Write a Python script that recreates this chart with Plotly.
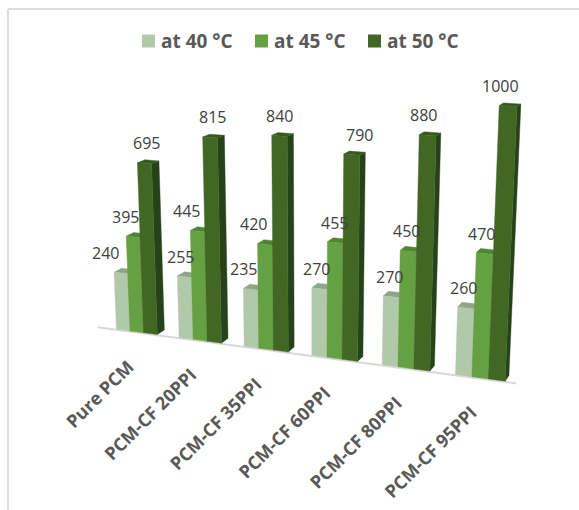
import math
import plotly.graph_objects as go

# Melting-time bars for each sample at three heating temperatures
categories = ["Pure PCM", "PCM-CF 20PPI", "PCM-CF 35PPI",
              "PCM-CF 60PPI", "PCM-CF 80PPI", "PCM-CF 95PPI"]
series_names = ["at 40 °C", "at 45 °C", "at 50 °C"]
values_40 = [240, 255, 235, 270, 270, 260]
values_45 = [395, 445, 420, 455, 450, 470]
values_50 = [695, 815, 840, 790, 880, 1000]

# Horizontal nudges that keep each value label clear of the neighbouring bar
nudge_40 = [-15, -4, -7, -3, -2, -2]
nudge_45 = [-8, -11, -12, -1, -2, -3]
nudge_50 = [2, 2, 0, 8, -4, -8]

# Face colours of a bar: front, top, right side
colors_40 = ("#B1C9A8", "#8FA488", "#8FA488")
colors_45 = ("#65A043", "#4F8430", "#4A7A30")
colors_50 = ("#426725", "#345A1C", "#25421A")

WIDTH, HEIGHT = 579, 510

# Pinhole camera: the bars are modelled as boxes and projected to the page
FOCAL = 1307.0
CENTER_U, CENTER_V = 310.0, 255.0
YAW = math.radians(21.25)
PITCH = math.radians(15.7)
ORIGIN = (-212.0, 72.0, 1307.0)

AXIS_X = (math.cos(YAW), math.sin(YAW) * math.sin(PITCH), -math.sin(YAW) * math.cos(PITCH))
AXIS_Y = (math.sin(YAW), -math.cos(YAW) * math.sin(PITCH), math.cos(YAW) * math.cos(PITCH))
AXIS_Z = (0.0, -math.cos(PITCH), -math.sin(PITCH))

CATEGORY_STEP = 69.5
GROUP_START = 20.4
BAR_WIDTH = 15.2
BAR_DEPTH = 15.0
FRONT_OFFSET = 1.0
VALUE_SCALE = 0.246
FLOOR_LENGTH = 424.0


def project(x, y, z):
    cam = [ORIGIN[i] + x * AXIS_X[i] + y * AXIS_Y[i] + z * AXIS_Z[i] for i in range(3)]
    return CENTER_U + FOCAL * cam[0] / cam[2], CENTER_V + FOCAL * cam[1] / cam[2]


def face(corners, color):
    pts = [project(*c) for c in corners] + [project(*corners[0])]
    return go.Scatter(
        x=[p[0] for p in pts], y=[p[1] for p in pts],
        mode="lines", fill="toself", fillcolor=color,
        line=dict(color=color, width=0.4),
        hoverinfo="skip", showlegend=False,
    )


def bar_traces(x0, value, colors):
    x1 = x0 + BAR_WIDTH
    y0, y1 = FRONT_OFFSET, FRONT_OFFSET + BAR_DEPTH
    z = value * VALUE_SCALE
    front, top, side = colors
    return [
        face([(x1, y0, 0), (x1, y1, 0), (x1, y1, z), (x1, y0, z)], side),
        face([(x0, y0, z), (x1, y0, z), (x1, y1, z), (x0, y1, z)], top),
        face([(x0, y0, 0), (x1, y0, 0), (x1, y0, z), (x0, y0, z)], front),
    ]


fig = go.Figure()
annotations = []
label_font = dict(family="Open Sans", size=16, color="#404040")

# Floor line along the front of the category axis
floor_a, floor_b = project(0, -1, 0), project(FLOOR_LENGTH, -1, 0)
fig.add_trace(go.Scatter(
    x=[floor_a[0], floor_b[0]], y=[floor_a[1], floor_b[1]], mode="lines",
    line=dict(color="#D9D9D9", width=2), hoverinfo="skip", showlegend=False,
))

all_series = [(values_40, colors_40, nudge_40),
              (values_45, colors_45, nudge_45),
              (values_50, colors_50, nudge_50)]

for c, name in enumerate(categories):
    start = GROUP_START + c * CATEGORY_STEP
    for s, (values, colors, nudges) in enumerate(all_series):
        x0 = start + s * BAR_WIDTH
        for trace in bar_traces(x0, values[c], colors):
            fig.add_trace(trace)
        tx, ty = project(x0 + BAR_WIDTH / 2, FRONT_OFFSET, values[c] * VALUE_SCALE)
        annotations.append(dict(
            x=tx, y=ty, xref="x", yref="y", text=str(values[c]), showarrow=False,
            xanchor="center", yanchor="middle", xshift=nudges[c], yshift=20,
            font=label_font,
        ))
    # Category label hangs from the group's centre on the floor
    gx, gy = project(start + 1.5 * BAR_WIDTH, FRONT_OFFSET, 0)
    annotations.append(dict(
        x=gx, y=gy, xref="x", yref="y", text=f"<b>{name}</b>", showarrow=False,
        textangle=-45, xanchor="right", yanchor="top", xshift=4, yshift=-20,
        font=dict(family="Open Sans", size=18, color="#595959"),
    ))

# Legend row across the top
legend_swatch_x = [148.5, 261.5, 374.5]
legend_y = 41
fig.add_trace(go.Scatter(
    x=legend_swatch_x, y=[legend_y] * 3, mode="markers",
    marker=dict(symbol="square", size=13,
                color=[colors_40[0], colors_45[0], colors_50[0]]),
    hoverinfo="skip", showlegend=False,
))
for sx, label in zip(legend_swatch_x, series_names):
    annotations.append(dict(
        x=sx + 10, y=legend_y, xref="x", yref="y", text=f"<b>{label}</b>",
        showarrow=False, xanchor="left", yanchor="middle",
        font=dict(family="Open Sans", size=19, color="#595959"),
    ))

# Chart-area frame, open on the right and at the bottom
frame = dict(type="line", xref="x", yref="y", line=dict(color="#DCDCDC", width=2), layer="below")
shapes = [dict(frame, x0=8, y0=9, x1=WIDTH, y1=9),
          dict(frame, x0=8, y0=9, x1=8, y1=HEIGHT)]

fig.update_layout(
    width=WIDTH, height=HEIGHT, margin=dict(l=0, r=0, t=0, b=0),
    paper_bgcolor="white", plot_bgcolor="white", showlegend=False,
    xaxis=dict(visible=False, range=[0, WIDTH], fixedrange=True),
    yaxis=dict(visible=False, range=[HEIGHT, 0], fixedrange=True),
    annotations=annotations, shapes=shapes,
)

fig.write_html("out.html", config=dict(displayModeBar=False))
